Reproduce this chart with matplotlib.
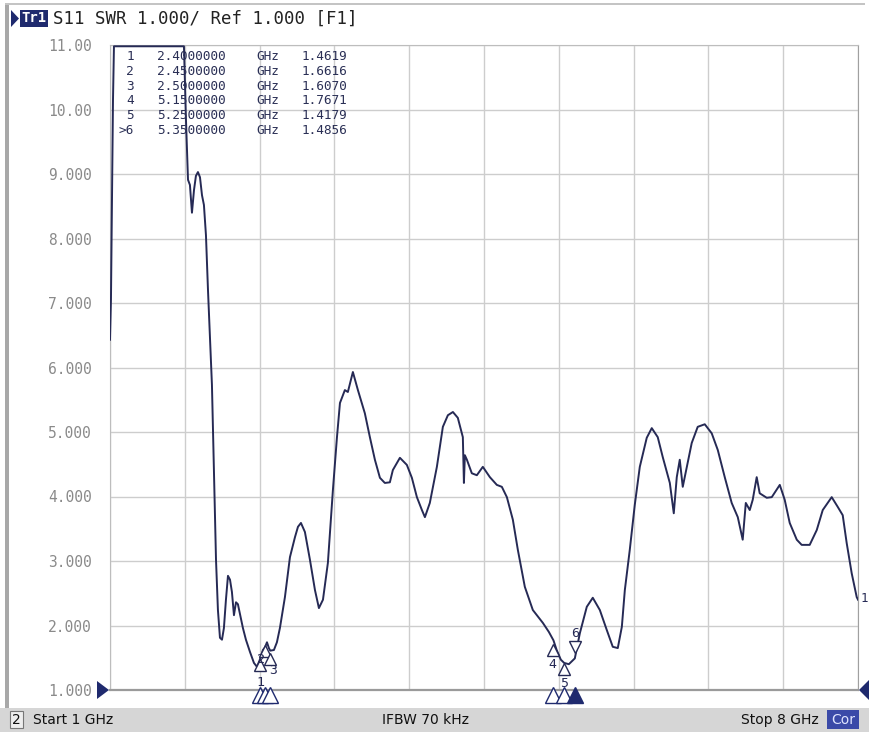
import numpy as np
import matplotlib.pyplot as plt
from matplotlib.patches import Rectangle, Polygon
from matplotlib.transforms import offset_copy

# S11 SWR trace (GHz, SWR); values above 11 are off-screen
freq = [1.000, 1.009, 1.019, 1.028, 1.037, 1.300, 1.692, 1.711, 1.730, 1.748,
        1.767, 1.786, 1.804, 1.823, 1.842, 1.861, 1.879, 1.898, 1.917, 1.935,
        1.954, 1.973, 1.992, 2.010, 2.029, 2.048, 2.066, 2.085, 2.104, 2.123,
        2.141, 2.160, 2.179, 2.197, 2.216, 2.244, 2.272, 2.310, 2.347, 2.375,
        2.400, 2.431, 2.450, 2.469, 2.487, 2.500, 2.534, 2.562, 2.590, 2.637,
        2.684, 2.731, 2.759, 2.787, 2.824, 2.871, 2.918, 2.955, 2.993, 3.039,
        3.086, 3.124, 3.152, 3.198, 3.226, 3.273, 3.320, 3.385, 3.432, 3.479,
        3.526, 3.572, 3.619, 3.647, 3.713, 3.778, 3.825, 3.872, 3.919, 3.947,
        3.993, 4.059, 4.115, 4.162, 4.209, 4.255, 4.302, 4.312, 4.321, 4.340,
        4.386, 4.433, 4.489, 4.555, 4.620, 4.667, 4.714, 4.770, 4.817, 4.882,
        4.957, 5.051, 5.107, 5.150, 5.180, 5.219, 5.250, 5.294, 5.350, 5.397,
        5.462, 5.518, 5.584, 5.649, 5.705, 5.752, 5.790, 5.818, 5.864, 5.911,
        5.958, 6.023, 6.070, 6.126, 6.173, 6.239, 6.276, 6.304, 6.332, 6.360,
        6.398, 6.444, 6.500, 6.566, 6.631, 6.688, 6.753, 6.818, 6.875, 6.921,
        6.950, 6.987, 7.015, 7.052, 7.080, 7.146, 7.193, 7.268, 7.314, 7.361,
        7.427, 7.473, 7.548, 7.614, 7.670, 7.754, 7.810, 7.857, 7.894, 7.941,
        7.988, 8.000]
swr = [6.43, 7.05, 8.60, 10.15, 11.20, 12.00, 11.50, 9.84, 8.91, 8.83,
       8.40, 8.75, 8.97, 9.03, 8.95, 8.67, 8.52, 8.05, 7.20, 6.50,
       5.73, 4.41, 3.02, 2.24, 1.81, 1.78, 1.96, 2.40, 2.77, 2.71,
       2.52, 2.16, 2.36, 2.33, 2.18, 1.96, 1.78, 1.59, 1.42, 1.36,
       1.46, 1.62, 1.66, 1.74, 1.65, 1.61, 1.62, 1.74, 1.96, 2.44,
       3.06, 3.37, 3.53, 3.59, 3.45, 3.02, 2.55, 2.27, 2.40, 2.97,
       4.10, 4.92, 5.45, 5.65, 5.62, 5.93, 5.65, 5.29, 4.92, 4.57,
       4.29, 4.21, 4.22, 4.41, 4.60, 4.49, 4.29, 3.99, 3.79, 3.68,
       3.90, 4.46, 5.08, 5.26, 5.31, 5.22, 4.92, 4.21, 4.64, 4.57,
       4.36, 4.33, 4.46, 4.30, 4.18, 4.15, 3.99, 3.64, 3.17, 2.60,
       2.24, 2.04, 1.90, 1.77, 1.62, 1.47, 1.42, 1.40, 1.49, 1.88,
       2.29, 2.43, 2.24, 1.93, 1.67, 1.65, 1.98, 2.55, 3.17, 3.87,
       4.46, 4.91, 5.06, 4.92, 4.61, 4.21, 3.74, 4.30, 4.57, 4.15,
       4.46, 4.83, 5.08, 5.12, 4.98, 4.72, 4.30, 3.90, 3.68, 3.33,
       3.90, 3.79, 3.95, 4.30, 4.05, 3.98, 3.99, 4.18, 3.95, 3.59,
       3.33, 3.25, 3.25, 3.48, 3.79, 3.99, 3.84, 3.71, 3.28, 2.81,
       2.44, 2.40]

# marker table
mk_num = ['1', '2', '3', '4', '5', '>6']
mk_freq = [2.40, 2.45, 2.50, 5.15, 5.25, 5.35]
mk_swr = [1.4619, 1.6616, 1.6070, 1.7671, 1.4179, 1.4856]

yticks = [1, 2, 3, 4, 5, 6, 7, 8, 9, 10, 11]
ylabels = ['1.000', '2.000', '3.000', '4.000', '5.000', '6.000',
           '7.000', '8.000', '9.000', '10.00', '11.00']
xgrid = [1.0, 1.7, 2.4, 3.1, 3.8, 4.5, 5.2, 5.9, 6.6, 7.3, 8.0]

W, H = 869, 732
navy = '#1f2a6e'
trace_col = '#262a55'
mono = 'DejaVu Sans Mono'


def px(x, y):
    return x / W, 1 - y / H


fig = plt.figure(figsize=(W / 100, H / 100), dpi=100)
fig.patch.set_facecolor('white')

# outer frame and status bar
fig.patches.append(Rectangle(px(0, 732), 1, 24 / H, transform=fig.transFigure,
                             facecolor='#d6d6d6', edgecolor='none', zorder=0))
fig.patches.append(Rectangle(px(5, 708), 4 / W, 703 / H, transform=fig.transFigure,
                             facecolor='#a8a8a8', edgecolor='none', zorder=0))
fig.patches.append(Rectangle(px(5, 5), 860 / W, 2 / H, transform=fig.transFigure,
                             facecolor='#c4c4c4', edgecolor='none', zorder=0))

ax = fig.add_axes([110 / W, 1 - 690 / H, 748 / W, 645 / H])
ax.set_facecolor('white')
ax.set_xlim(1, 8)
ax.set_ylim(1, 11)
ax.set_xticks(xgrid)
ax.set_xticklabels([])
ax.set_yticks(yticks)
ax.set_yticklabels(ylabels, family=mono, fontsize=10.5, color='#8a8a8a')
ax.tick_params(length=0, pad=13)
ax.grid(True, color='#cdcdcd', lw=1)
for s in ['left', 'top', 'right']:
    ax.spines[s].set_color('#bdbdbd')
ax.spines['right'].set_color('#a0a0a0')
ax.spines['bottom'].set_color('#9a9a9a')
ax.spines['bottom'].set_linewidth(1.6)

ax.plot(freq, np.minimum(swr, 10.98), color=trace_col, lw=1.4, zorder=5)

# markers on the trace
def mark(f, v, sym, dy, label, lx, ly):
    tr = offset_copy(ax.transData, fig=fig, x=0, y=dy, units='dots')
    ax.plot([f], [v], marker=sym, ms=8, mfc='white', mec=trace_col, mew=1,
            transform=tr, zorder=6, clip_on=False)
    ax.annotate(label, (f, v), xytext=(lx, ly), textcoords='offset pixels',
                ha='center', va='center', fontsize=9.5, family=mono,
                color=trace_col, zorder=7)

mark(mk_freq[0], mk_swr[0], '^', -5, '1', 1, -22)
mark(mk_freq[1], mk_swr[1], '^', -4, '2', -4, -12)
mark(mk_freq[2], mk_swr[2], '^', -8, '3', 3, -20)
mark(mk_freq[3], mk_swr[3], '^', -9, '4', -1, -24)
mark(mk_freq[4], mk_swr[4], '^', -6, '5', 0, -20)
mark(mk_freq[5], mk_swr[5], 'v', 12, '6', 0, 25)

# stimulus triangles under the 1.000 line
for i, f in enumerate(mk_freq):
    tr = offset_copy(ax.transData, fig=fig, x=0, y=-5, units='dots')
    fc = navy if i == 5 else 'white'
    ax.plot([f], [1.0], marker='^', ms=11, mfc=fc, mec=navy, mew=1,
            transform=tr, clip_on=False, zorder=8)

# reference arrows
fig.patches.append(Polygon([px(97, 681), px(97, 699), px(109, 690)], closed=True,
                           transform=fig.transFigure, facecolor=navy, edgecolor='none'))
fig.patches.append(Polygon([px(869, 680), px(869, 700), px(859, 690)], closed=True,
                           transform=fig.transFigure, facecolor=navy, edgecolor='none'))
fig.text(*px(864, 598), '1', fontsize=9, family=mono, color=trace_col,
         ha='center', va='center')

# marker table
row_y = [57, 71.6, 86.2, 100.8, 115.4, 130]
for i in range(6):
    fig.text(*px(134, row_y[i]), mk_num[i], family=mono, fontsize=9.2,
             color='#2a2f55', ha='right', va='center', zorder=1)
    fig.text(*px(157, row_y[i]), '%.7f' % mk_freq[i], family=mono, fontsize=9.2,
             color='#2a2f55', ha='left', va='center', zorder=1)
    fig.text(*px(256, row_y[i]), 'GHz', family=mono, fontsize=9.2,
             color='#2a2f55', ha='left', va='center', zorder=1)
    fig.text(*px(302, row_y[i]), '%.4f' % mk_swr[i], family=mono, fontsize=9.2,
             color='#2a2f55', ha='left', va='center', zorder=1)

# header
fig.patches.append(Polygon([px(11, 10), px(11, 27), px(19, 18.5)], closed=True,
                           transform=fig.transFigure, facecolor=navy, edgecolor='none'))
fig.patches.append(Rectangle(px(20, 27), 28 / W, 17 / H, transform=fig.transFigure,
                             facecolor=navy, edgecolor='none'))
fig.text(*px(34, 18.5), 'Tr1', family=mono, fontsize=10, color='white',
         ha='center', va='center', weight='bold')
fig.text(*px(53, 18.5), 'S11 SWR 1.000/ Ref 1.000 [F1]', family=mono, fontsize=12.5,
         color='#222222', ha='left', va='center')

# status bar
fig.patches.append(Rectangle(px(10, 728), 13 / W, 17 / H, transform=fig.transFigure,
                             facecolor='#eeeeee', edgecolor='#777777', lw=0.8))
fig.text(*px(16.5, 720), '2', fontsize=10, color='#111111', ha='center', va='center')
fig.text(*px(33, 720), 'Start 1 GHz', fontsize=10, color='#111111', ha='left', va='center')
fig.text(*px(425, 720), 'IFBW 70 kHz', fontsize=10, color='#111111', ha='center', va='center')
fig.text(*px(819, 720), 'Stop 8 GHz', fontsize=10, color='#111111', ha='right', va='center')
fig.patches.append(Rectangle(px(827, 729), 32 / W, 19 / H, transform=fig.transFigure,
                             facecolor='#3b4aa8', edgecolor='none'))
fig.text(*px(843, 720), 'Cor', fontsize=10, color='#dfe4ff', ha='center', va='center')

fig.savefig('out.png', dpi=100)
